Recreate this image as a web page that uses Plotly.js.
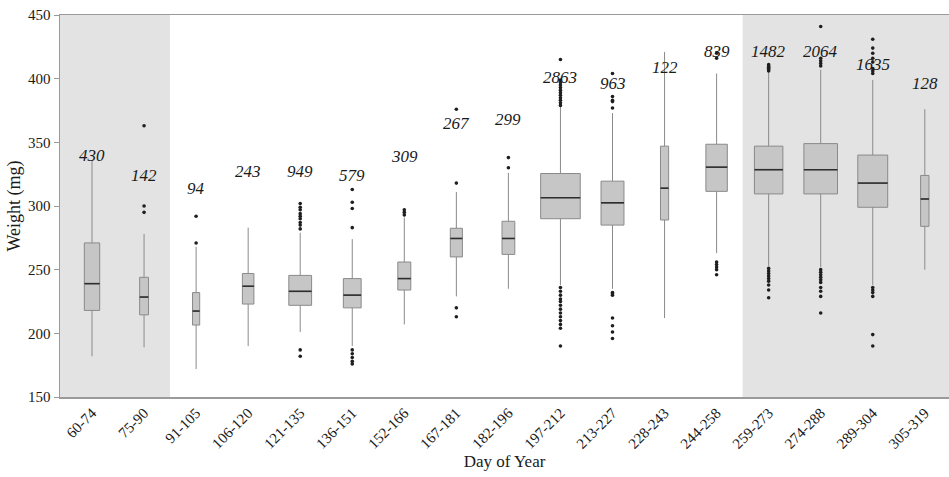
<!DOCTYPE html>
<html>
<head>
<meta charset="utf-8">
<script src="https://cdn.plot.ly/plotly-3.0.1.min.js"></script>
<style>html,body{margin:0;padding:0;background:#fff;}#chart{width:949px;height:477px;}</style>
</head>
<body>
<div id="chart"></div>
<script>
const categories = ['60-74','75-90','91-105','106-120','121-135','136-151','152-166','167-181','182-196','197-212','213-227','228-243','244-258','259-273','274-288','289-304','305-319'];
const counts = [430,142,94,243,949,579,309,267,299,2863,963,122,839,1482,2064,1635,128];
const lowerWhisker = [182,189,172,190,201,190,207,229,235,238,235,212,263,253,252,238,250];
const q1 = [218,214.5,206.5,223,222,220,234,260,262,290,285,289,311.5,309.5,309.5,299,284];
const median = [239,228.5,217.5,237,233,230,243,274.5,274.5,306.5,302.5,314,330.5,328.5,328.5,318,305.5];
const q3 = [271,244,232,247,245.5,243,256,282.5,288,325.5,319.5,347,348.5,347,349,340,324];
const upperWhisker = [336,278,268,283,279,274,291,311,326,378,373,421,404,405,407,399,376];
const outliers = [
  [],
  [295,300,363],
  [271,292],
  [],
  [282,285,287,290,292,294,297,299,302,182,187],
  [283,298,303,313,187,184,181,178,176],
  [293,295,297],
  [318,376,220,213],
  [330,338],
  [379,381,383,385,387,389,391,393,395,397,399,415,236,233,230,227,225,222,219,216,213,210,207,204,190],
  [377,382,383,386,404,232,231,230,212,206,201,196],
  [],
  [416,420,256,254,252,250,246],
  [406,407,408,409,410,411,251,249,247,245,243,241,238,234,228],
  [410,412,414,416,441,250,248,246,244,242,240,236,233,229,216],
  [404,406,408,413,416,420,424,431,236,234,232,229,199,190],
  []
];
// layout positions (not data): label heights in mg
const labelY = [340,324,314,327,327,324,339,365,368,401,396,409,421,421,421,411,396];

const PX_PER_UNIT = 52.06;
const widthOf = n => 0.74 * Math.sqrt(n) / PX_PER_UNIT;
const xRange = [-0.615, 16.465];
const serif = 'Liberation Serif, Times New Roman, serif';

const traces = [];
categories.forEach((c, i) => {
  traces.push({
    type: 'box', x: [i], q1: [q1[i]], median: [median[i]], q3: [q3[i]],
    lowerfence: [lowerWhisker[i]], upperfence: [upperWhisker[i]],
    width: widthOf(counts[i]), whiskerwidth: 0, boxpoints: false,
    fillcolor: '#c6c6c6', line: {color: '#8a8a8a', width: 1},
    showlegend: false, hoverinfo: 'skip'
  });
});
// median lines
const mx = [], my = [];
categories.forEach((c, i) => {
  const w = widthOf(counts[i]) / 2;
  mx.push(i - w, i + w, null); my.push(median[i], median[i], null);
});
traces.push({type: 'scatter', mode: 'lines', x: mx, y: my, line: {color: '#2e2e2e', width: 1.6}, showlegend: false, hoverinfo: 'skip'});
// outliers
const ox = [], oy = [];
outliers.forEach((arr, i) => arr.forEach(v => { ox.push(i); oy.push(v); }));
traces.push({type: 'scatter', mode: 'markers', x: ox, y: oy, marker: {color: '#1e1e1e', size: 3.6}, showlegend: false, hoverinfo: 'skip'});

const annotations = categories.map((c, i) => ({
  x: i, y: labelY[i], xref: 'x', yref: 'y', text: '<i>' + counts[i] + '</i>',
  showarrow: false, font: {family: serif, size: 17, color: '#1a1a1a'}
}));

const layout = {
  width: 949, height: 477,
  margin: {l: 60, r: 0, t: 15, b: 80},
  paper_bgcolor: '#fff', plot_bgcolor: '#fff',
  font: {family: serif, color: '#1a1a1a'},
  xaxis: {
    range: xRange, tickmode: 'array', tickvals: categories.map((c, i) => i), ticktext: categories,
    tickangle: -45, tickfont: {family: serif, size: 15, color: '#1a1a1a'},
    showgrid: false, zeroline: false, showline: true, linecolor: '#9a9a9a', linewidth: 1.5, mirror: true,
    ticks: '',
    title: {text: 'Day of Year', font: {family: serif, size: 17, color: '#1a1a1a'}, standoff: 4}
  },
  yaxis: {
    range: [150, 450], tickvals: [150,200,250,300,350,400,450],
    tickfont: {family: serif, size: 15, color: '#1a1a1a'},
    showgrid: false, zeroline: false, showline: true, linecolor: '#9a9a9a', linewidth: 1.5,
    ticks: 'outside', ticklen: 5, tickcolor: '#9a9a9a',
    title: {text: 'Weight (mg)', font: {family: serif, size: 18, color: '#1a1a1a'}, standoff: 2}
  },
  shapes: [
    {type: 'rect', layer: 'below', xref: 'x', yref: 'paper', x0: xRange[0], x1: 1.5, y0: 0, y1: 1, fillcolor: '#e3e3e3', line: {width: 0}},
    {type: 'rect', layer: 'below', xref: 'x', yref: 'paper', x0: 12.5, x1: xRange[1], y0: 0, y1: 1, fillcolor: '#e3e3e3', line: {width: 0}}
  ],
  annotations: annotations
};

Plotly.newPlot('chart', traces, layout, {displayModeBar: false, staticPlot: true});
</script>
</body>
</html>
